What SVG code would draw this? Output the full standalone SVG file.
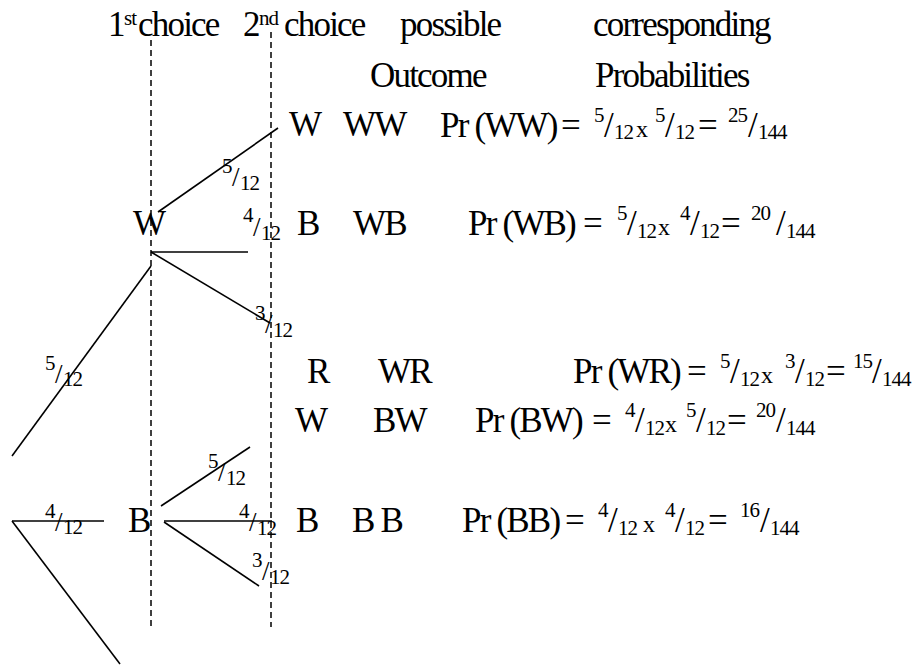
<svg xmlns="http://www.w3.org/2000/svg" width="913" height="666" viewBox="0 0 913 666">
<style>
text{font-family:"Liberation Serif","Times New Roman",serif;font-size:35px;letter-spacing:-1.8px;fill:#000}
.s{font-size:21px;letter-spacing:-1px}
.sl{font-size:27px;letter-spacing:0}
.x{font-size:24px;letter-spacing:0}
line{stroke:#000;stroke-width:1.6;fill:none}
.dash{stroke-width:1.5;stroke-dasharray:6 4}
</style>
<rect width="913" height="666" fill="#fff"/>
<g id="headers">
<text y="36"><tspan x="108">1</tspan><tspan class="s" x="124" y="25">st</tspan><tspan x="138" y="36">choice</tspan></text>
<text y="36"><tspan x="243">2</tspan><tspan class="s" x="259" y="25">nd</tspan><tspan x="284" y="36">choice</tspan></text>
<text x="400" y="36">possible</text>
<text x="593" y="36">corresponding</text>
<text x="370" y="87">Outcome</text>
<text x="595" y="87">Probabilities</text>
</g>
<g id="guides">
<line class="dash" x1="151" y1="40" x2="151" y2="630"/>
<line class="dash" x1="271" y1="32" x2="271" y2="627"/>
</g>
<g id="connectors">
<line x1="158" y1="212" x2="278" y2="128"/>
<line x1="151" y1="252" x2="248" y2="252"/>
<line x1="151" y1="252" x2="270" y2="323"/>
<line x1="151" y1="266" x2="12" y2="456"/>
<line x1="12" y1="521" x2="104" y2="521"/>
<line x1="12" y1="521" x2="120" y2="664"/>
<line x1="161" y1="506" x2="250" y2="447"/>
<line x1="164" y1="521" x2="272" y2="521"/>
<line x1="164" y1="522" x2="259" y2="586"/>
</g>
<g id="branch-labels">
<text><tspan class="s" x="222" y="173">5</tspan><tspan class="sl" x="232" y="186">/</tspan><tspan class="s" x="240" y="190">12</tspan></text>
<text><tspan class="s" x="243" y="222">4</tspan><tspan class="sl" x="253" y="236">/</tspan><tspan class="s" x="261" y="240">12</tspan></text>
<text><tspan class="s" x="255" y="320">3</tspan><tspan class="sl" x="265" y="333">/</tspan><tspan class="s" x="273" y="337">12</tspan></text>
<text><tspan class="s" x="45" y="370">5</tspan><tspan class="sl" x="55" y="383">/</tspan><tspan class="s" x="63" y="386">12</tspan></text>
<text><tspan class="s" x="45" y="518">4</tspan><tspan class="sl" x="55" y="531">/</tspan><tspan class="s" x="63" y="534">12</tspan></text>
<text><tspan class="s" x="208" y="468">5</tspan><tspan class="sl" x="218" y="481">/</tspan><tspan class="s" x="226" y="485">12</tspan></text>
<text><tspan class="s" x="239" y="518">4</tspan><tspan class="sl" x="249" y="531">/</tspan><tspan class="s" x="257" y="535">12</tspan></text>
<text><tspan class="s" x="252" y="567">3</tspan><tspan class="sl" x="262" y="580">/</tspan><tspan class="s" x="270" y="584">12</tspan></text>
</g>
<g id="node-first-W"><text x="133" y="235">W</text></g>
<g id="node-first-B"><text x="128" y="532">B</text></g>
<g id="node-WW">
<text x="289" y="136">W</text>
<text x="343" y="136">WW</text>
<text y="137"><tspan x="440">Pr (WW)</tspan><tspan x="561">=</tspan><tspan class="s" x="594" y="122">5</tspan><tspan x="604" y="137">/</tspan><tspan class="s" x="614" y="139">12</tspan><tspan class="x" x="636" y="137">x</tspan><tspan class="s" x="655" y="122">5</tspan><tspan x="665" y="137">/</tspan><tspan class="s" x="675" y="139">12</tspan><tspan x="698" y="137">=</tspan><tspan class="s" x="728" y="122">25</tspan><tspan x="748" y="137">/</tspan><tspan class="s" x="758" y="139">144</tspan></text>
</g>
<g id="node-WB">
<text x="297" y="235">B</text>
<text x="353" y="235">WB</text>
<text y="235"><tspan x="468">Pr (WB)</tspan><tspan x="583">=</tspan><tspan class="s" x="617" y="220">5</tspan><tspan x="627" y="235">/</tspan><tspan class="s" x="637" y="238">12</tspan><tspan class="x" x="658" y="235">x</tspan><tspan class="s" x="680" y="220">4</tspan><tspan x="690" y="235">/</tspan><tspan class="s" x="700" y="238">12</tspan><tspan x="721" y="235">=</tspan><tspan class="s" x="751" y="220">20</tspan><tspan x="776" y="235">/</tspan><tspan class="s" x="786" y="238">144</tspan></text>
</g>
<g id="node-WR">
<text x="307" y="383">R</text>
<text x="378" y="383">WR</text>
<text y="383"><tspan x="573">Pr (WR)</tspan><tspan x="687">=</tspan><tspan class="s" x="720" y="368">5</tspan><tspan x="730" y="383">/</tspan><tspan class="s" x="740" y="386">12</tspan><tspan class="x" x="761" y="383">x</tspan><tspan class="s" x="785" y="368">3</tspan><tspan x="795" y="383">/</tspan><tspan class="s" x="805" y="386">12</tspan><tspan x="826" y="383">=</tspan><tspan class="s" x="853" y="368">15</tspan><tspan x="872" y="383">/</tspan><tspan class="s" x="882" y="386">144</tspan></text>
</g>
<g id="node-BW">
<text x="295" y="432">W</text>
<text x="373" y="432">BW</text>
<text y="432"><tspan x="475">Pr (BW)</tspan><tspan x="592">=</tspan><tspan class="s" x="625" y="417">4</tspan><tspan x="635" y="432">/</tspan><tspan class="s" x="645" y="435">12</tspan><tspan class="x" x="665" y="432">x</tspan><tspan class="s" x="686" y="417">5</tspan><tspan x="696" y="432">/</tspan><tspan class="s" x="706" y="435">12</tspan><tspan x="727" y="432">=</tspan><tspan class="s" x="756" y="417">20</tspan><tspan x="776" y="432">/</tspan><tspan class="s" x="786" y="435">144</tspan></text>
</g>
<g id="node-BB">
<text x="296" y="532">B</text>
<text x="352" y="532">B B</text>
<text y="532"><tspan x="462">Pr (BB)</tspan><tspan x="565">=</tspan><tspan class="s" x="598" y="517">4</tspan><tspan x="608" y="532">/</tspan><tspan class="s" x="618" y="535">12</tspan><tspan class="x" x="643" y="532">x</tspan><tspan class="s" x="665" y="517">4</tspan><tspan x="675" y="532">/</tspan><tspan class="s" x="685" y="535">12</tspan><tspan x="708" y="532">=</tspan><tspan class="s" x="740" y="517">16</tspan><tspan x="760" y="532">/</tspan><tspan class="s" x="770" y="535">144</tspan></text>
</g>
</svg>
